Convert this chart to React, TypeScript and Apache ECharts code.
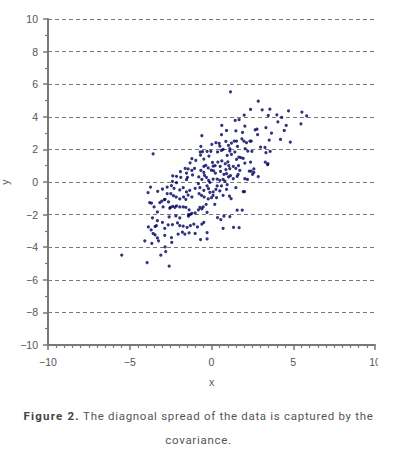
import React, { useEffect, useRef } from "react";
import * as echarts from "echarts";

const xRange = [-10, 10];
const yRange = [-10, 10];
const xTickStep = 5;
const yTickStep = 2;
const captionBold = "Figure 2.";
const captionLine1 = " The diagnoal spread of the data is captured by the";
const captionLine2 = "covariance.";

const samples: [number, number][] = [
  [1.16, 5.53],
  [2.86, 4.96], [2.39, 4.45], [3.1, 4.43], [3.57, 4.47], [4.71, 4.37], [5.53, 4.29], [5.82, 4.06], [4.0, 4.12], [3.47, 4.08], [2.0, 4.1], [4.29, 3.96],
  [1.45, 3.78], [1.69, 3.82], [2.04, 3.43], [0.63, 3.47], [0.92, 3.16], [1.49, 3.14], [1.9, 3.04], [2.67, 3.2], [2.78, 3.24], [3.33, 3.33], [4.06, 3.69], [4.57, 3.47], [5.47, 3.57], [4.45, 3.16], [3.67, 3.0], [-0.59, 2.84],
  [0.61, 2.9], [2.82, 2.9], [4.22, 2.61], [3.53, 2.57], [4.82, 2.45], [0.27, 2.41], [0.47, 2.37], [0.88, 2.49], [1.04, 2.24], [1.39, 2.51], [1.53, 2.51], [1.59, 2.18], [1.86, 2.65], [1.98, 2.51], [2.14, 2.41], [2.35, 2.51], [2.43, 2.51], [3.0, 2.14], [3.27, 2.12], [0.51, 2.2], [0.02, 2.31], [1.22, 2.39], [0.71, 2.0], [1.12, 2.04], [-0.65, 2.18],
  [-0.69, 1.84], [-0.55, 1.86], [-0.27, 1.88], [-0.04, 1.88], [-0.67, 1.65], [-0.16, 1.59], [-0.47, 1.41], [-1.2, 1.43], [-0.96, 1.33], [-1.31, 1.18], [-1.61, 0.84], [-1.9, 0.63], [-2.14, 0.35], [-2.37, 0.37], [-3.57, 1.73], [0.37, 1.84], [0.61, 1.94], [0.96, 1.63], [1.12, 1.9], [1.22, 1.69], [1.43, 1.84], [1.53, 1.39], [1.67, 1.53], [1.8, 1.49], [1.94, 1.45], [2.06, 2.04], [2.22, 1.9], [2.47, 1.88], [3.33, 1.8], [3.59, 1.88], [2.04, 1.16], [2.39, 1.22], [3.29, 1.22], [3.45, 1.12], [3.43, 1.06], [0.63, 1.29], [0.39, 1.22], [0.1, 0.98], [0.22, 1.0], [-0.2, 0.86], [-0.47, 0.96], [-0.35, 1.02], [0.53, 0.96], [0.84, 1.12], [1.0, 1.24], [1.06, 1.0], [0.88, 0.76], [1.12, 0.82], [1.33, 0.96], [1.49, 0.84], [1.65, 1.0], [1.73, 0.71], [0.06, 1.2],
  [-1.04, 0.84], [-1.2, 0.71], [-1.43, 0.8], [-0.65, 0.71], [-0.47, 0.59], [-0.02, 0.73], [0.12, 0.69], [0.24, 0.55], [0.55, 0.65], [0.76, 0.47], [0.92, 0.51], [1.04, 0.31], [1.16, 0.39], [1.33, 0.2], [1.57, 0.35], [1.63, 0.47], [2.04, 0.2], [2.2, 0.16], [2.31, 0.67], [2.43, 0.67], [2.59, 0.8], [2.59, 0.59], [2.51, 0.47], [2.86, 0.33], [-0.78, 0.31], [-1.16, 0.43], [-1.53, 0.55], [-1.47, 0.29], [-1.53, 0.14], [-1.88, 0.29], [-2.14, -0.04], [-2.39, 0.04], [-0.8, -0.1], [-0.59, 0.16], [-0.31, 0.29], [-0.18, 0.1], [0.1, 0.18], [-0.1, -0.02], [0.35, 0.18], [0.51, 0.1], [0.71, 0.16], [0.82, 0.06], [0.96, -0.16], [-0.43, 0.41],
  [-3.88, -0.65], [-3.73, -0.31], [-3.29, -0.57], [-3.0, -0.43], [-2.71, -0.31], [-2.45, -0.22], [-2.49, -0.71], [-2.29, -0.39], [-1.94, -0.49], [-1.73, -0.35], [-1.53, -0.61], [-1.33, -0.51], [-1.0, -0.39], [-0.71, -0.35], [-0.47, -0.51], [-0.27, -0.24], [-0.18, -0.41], [-0.1, -0.63], [0.1, -0.61], [0.27, -0.45], [0.35, -0.24], [0.51, -0.55], [0.61, -0.24], [0.71, -0.82], [0.92, -0.45], [1.1, -0.86], [1.2, -1.02], [1.94, -0.59], [2.02, -0.59], [1.49, -0.35], [-0.61, -0.82], [-0.76, -0.71], [-0.45, -0.92], [-0.2, -1.04], [0.1, -0.82], [0.31, -0.96], [0.0, -0.96], [-2.71, -0.71], [-2.33, -0.84], [-2.16, -0.92], [-1.94, -1.04], [-1.71, -0.92], [-1.57, -1.06], [-1.43, -0.8], [-1.2, -0.92], [-2.84, -1.06], [-3.04, -1.18],
  [-3.78, -1.27], [-3.67, -1.29], [-3.51, -1.53], [-2.88, -1.08], [-2.63, -1.22], [-2.51, -1.55], [-2.37, -1.49], [-2.24, -1.55], [-2.14, -1.47], [-1.94, -1.53], [-1.73, -1.53], [-1.57, -1.55], [-1.37, -1.71], [-1.2, -1.92], [-1.0, -1.9], [-0.8, -1.71], [-0.59, -1.65], [-0.33, -1.37], [-0.27, -1.86], [-2.55, -1.61], [-3.31, -1.84], [-2.96, -1.53], [-3.16, -1.27], [-2.59, -2.14], [-2.18, -2.08], [-1.94, -2.2], [-1.41, -2.0], [-1.29, -1.98], [-0.71, -1.55], [-0.51, -1.53], [0.2, -1.37], [0.37, -2.18], [0.57, -2.31], [0.76, -2.1], [1.12, -2.12], [1.57, -1.73], [1.88, -1.73], [-1.41, -2.1],
  [-3.61, -2.2], [-3.31, -2.37], [-3.37, -2.67], [-3.86, -2.76], [-3.69, -2.94], [-3.45, -2.73], [-2.65, -2.63], [-2.39, -2.61], [-2.08, -2.51], [-1.94, -2.67], [-1.73, -2.71], [-1.49, -2.78], [-1.29, -2.67], [-1.08, -2.59], [-0.86, -2.76], [-0.59, -2.59], [-0.47, -2.47], [0.71, -2.84], [1.35, -2.78], [1.69, -2.8], [-3.0, -2.47], [-2.86, -2.84],
  [-3.57, -3.16], [-3.45, -3.24], [-2.86, -3.27], [-2.45, -3.41], [-2.04, -3.2], [-1.78, -3.08], [-1.63, -3.2], [-1.37, -3.12], [-1.0, -3.16], [-0.67, -3.53], [-0.27, -3.49], [-0.27, -3.1], [-3.24, -3.61], [-4.08, -3.61], [-3.65, -3.76], [-2.43, -3.71], [-2.84, -3.98], [-3.31, -3.43],
  [-3.1, -4.49], [-2.8, -4.27], [-3.94, -4.94], [-2.59, -5.16], [-5.49, -4.48],
];

const minus = (v: number) => String(v).replace("-", "\u2212");

export default function App() {
  const ref = useRef<HTMLDivElement>(null);
  useEffect(() => {
    const chart = echarts.init(ref.current!, null, { renderer: "svg" });
    const axisColor = "#777";
    const labelStyle = { color: "#555", fontSize: 10.5, fontFamily: "Liberation Sans, Arial, sans-serif" };
    chart.setOption({
      animation: false,
      grid: { left: 48, right: 3, top: 19, bottom: 45, containLabel: false, outerBoundsMode: "none" },
      xAxis: {
        type: "value",
        min: xRange[0],
        max: xRange[1],
        interval: xTickStep,
        name: "x",
        nameLocation: "middle",
        nameGap: 31,
        nameMoveOverlap: false,
        nameTextStyle: labelStyle,
        axisLine: { show: true, onZero: false, lineStyle: { color: axisColor, width: 2 } },
        axisTick: { show: true, length: 5, lineStyle: { color: axisColor, width: 1.5 } },
        minorTick: { show: true, splitNumber: 10, length: 3, lineStyle: { color: axisColor, width: 1.2 } },
        axisLabel: { ...labelStyle, margin: 11, formatter: minus },
        splitLine: { show: false },
      },
      yAxis: {
        type: "value",
        min: yRange[0],
        max: yRange[1],
        interval: yTickStep,
        name: "y",
        nameLocation: "middle",
        nameGap: 38,
        nameMoveOverlap: false,
        nameTextStyle: labelStyle,
        axisLine: { show: true, onZero: false, lineStyle: { color: axisColor, width: 2 } },
        axisTick: { show: true, length: 5, lineStyle: { color: axisColor, width: 1.5 } },
        minorTick: { show: true, splitNumber: 2, length: 3, lineStyle: { color: axisColor, width: 1.2 } },
        axisLabel: { ...labelStyle, margin: 10, formatter: minus },
        splitLine: { show: true, lineStyle: { color: "#777", width: 1, type: [4, 3] } },
      },
      series: [
        {
          type: "scatter",
          data: samples,
          symbol: "circle",
          symbolSize: 3.2,
          itemStyle: { color: "#00005c" },
        },
      ],
    });
    return () => chart.dispose();
  }, []);

  return (
    <div style={{ position: "absolute", left: 0, top: 0, width: 397, height: 453, background: "#fff" }}>
      <div ref={ref} style={{ position: "absolute", left: 0, top: 0, width: 378, height: 390 }} />
      <div
        style={{
          position: "absolute",
          left: 0,
          top: 404,
          width: 397,
          textAlign: "center",
          fontFamily: "Roboto, 'Noto Sans', sans-serif",
          fontSize: 11.5,
          letterSpacing: 0.7,
          lineHeight: "24px",
          color: "#555",
        }}
      >
        <span style={{ fontWeight: 700, color: "#444", letterSpacing: 1.2 }}>{captionBold}</span>
        {captionLine1}
        <br />
        {captionLine2}
      </div>
    </div>
  );
}
